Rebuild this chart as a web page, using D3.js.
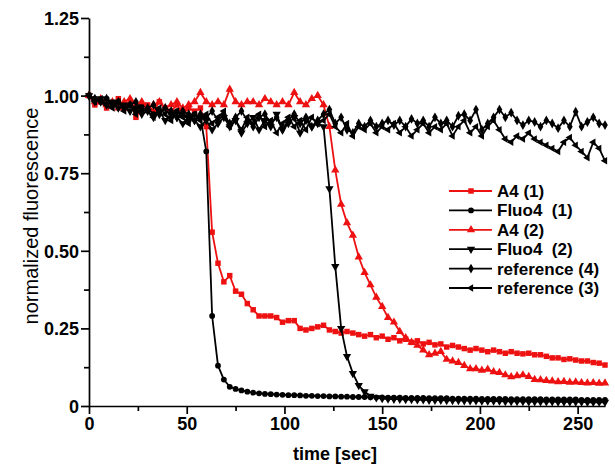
<!DOCTYPE html>
<html>
<head>
<meta charset="utf-8">
<script src="https://cdnjs.cloudflare.com/ajax/libs/d3/7.8.5/d3.min.js"></script>
<style>
  body { margin: 0; background: #fff; }
  text { font-family: "Liberation Sans", Arial, sans-serif; }
</style>
</head>
<body>
<script>

// ================================ data
var time = [0, 3, 6, 9, 12, 15, 18, 21, 24, 27, 30, 33, 36, 39, 42, 45, 48, 51, 54, 57,
  60, 63, 66, 69, 72, 75, 78, 81, 84, 87, 90, 93, 96, 99, 102, 105, 108, 111, 114, 117,
  120, 123, 126, 129, 132, 135, 138, 141, 144, 147, 150, 153, 156, 159, 162, 165, 168, 171, 174, 177,
  180, 183, 186, 189, 192, 195, 198, 201, 204, 207, 210, 213, 216, 219, 222, 225, 228, 231, 234, 237,
  240, 243, 246, 249, 252, 255, 258, 261, 264];

var a4_1 = [1.00, 0.97, 0.98, 0.96, 0.97, 0.99, 0.96, 0.98, 0.93, 0.96, 0.97, 0.95, 0.98, 0.96, 0.95, 0.97, 0.94, 0.96, 0.95, 0.96,
  0.90, 0.56, 0.46, 0.40, 0.42, 0.37, 0.36, 0.33, 0.31, 0.29,
  0.29, 0.29, 0.285, 0.27, 0.275, 0.275, 0.25, 0.245, 0.25, 0.255, 0.26,
  0.245, 0.24, 0.235, 0.24, 0.235, 0.23, 0.225, 0.23, 0.22,
  0.225, 0.215, 0.22, 0.21, 0.215, 0.205, 0.21, 0.20, 0.205, 0.197,
  0.20, 0.19, 0.195, 0.19, 0.185, 0.18, 0.185, 0.18, 0.175, 0.18,
  0.175, 0.17, 0.175, 0.17, 0.168, 0.17, 0.165, 0.165, 0.16, 0.155,
  0.155, 0.15, 0.152, 0.148, 0.145, 0.145, 0.14, 0.138, 0.132];

var fluo4_1 = [1.00, 0.99, 0.98, 0.99, 0.97, 0.98, 0.96, 0.97, 0.95, 0.97, 0.96, 0.94, 0.95, 0.96, 0.93, 0.95, 0.94, 0.92, 0.94, 0.93,
  0.82, 0.29, 0.13, 0.085, 0.062, 0.055, 0.050, 0.046, 0.043, 0.041,
  0.039, 0.038, 0.037, 0.036, 0.035, 0.035, 0.034, 0.033, 0.033, 0.032,
  0.032, 0.031, 0.031, 0.030, 0.030, 0.029, 0.029, 0.029, 0.028, 0.028,
  0.028, 0.027, 0.027, 0.027, 0.026, 0.026, 0.026, 0.026, 0.025, 0.025,
  0.025, 0.025, 0.024, 0.024, 0.024, 0.024, 0.024, 0.023, 0.023, 0.023,
  0.023, 0.023, 0.022, 0.022, 0.022, 0.022, 0.022, 0.022, 0.021, 0.021,
  0.021, 0.021, 0.021, 0.021, 0.020, 0.020, 0.020, 0.020, 0.020];

var a4_2 = [1.00, 0.98, 0.99, 0.97, 0.98, 0.96, 0.98, 0.99, 0.97, 0.98, 0.96, 0.97, 0.98, 0.96, 0.97, 0.98, 0.96, 0.97, 0.98, 1.01,
  0.98, 0.97, 0.98, 0.97, 1.02, 0.98, 0.97, 0.98, 0.98, 0.97, 0.99, 0.98, 0.97, 0.98, 0.97, 1.01, 0.98, 0.97, 0.99, 1.00, 0.97,
  0.90, 0.76, 0.65, 0.59, 0.55, 0.48, 0.43, 0.39, 0.35,
  0.32, 0.285, 0.27, 0.24, 0.22, 0.205, 0.195, 0.18, 0.165, 0.17,
  0.175, 0.15, 0.145, 0.14, 0.13, 0.12, 0.12, 0.115, 0.118, 0.11,
  0.108, 0.10, 0.094, 0.097, 0.10, 0.095, 0.085, 0.084, 0.082, 0.08,
  0.078, 0.079, 0.076, 0.077, 0.075, 0.074, 0.075, 0.073, 0.074];

var fluo4_2 = [1.00, 0.98, 0.99, 0.97, 0.98, 0.96, 0.97, 0.95, 0.96, 0.94, 0.95, 0.93, 0.95, 0.92, 0.94, 0.93, 0.91, 0.93, 0.92, 0.90,
  0.92, 0.89, 0.91, 0.93, 0.90, 0.92, 0.88, 0.91, 0.93, 0.89, 0.92, 0.90, 0.94, 0.89, 0.91, 0.93, 0.88, 0.92, 0.90, 0.91,
  0.90, 0.70, 0.45, 0.25, 0.16, 0.105, 0.066, 0.046, 0.032, 0.027,
  0.024, 0.023, 0.022, 0.022, 0.021, 0.021, 0.020, 0.020, 0.019, 0.019,
  0.019, 0.018, 0.018, 0.018, 0.017, 0.017, 0.017, 0.016, 0.016, 0.016,
  0.016, 0.015, 0.015, 0.015, 0.015, 0.014, 0.014, 0.014, 0.014, 0.014,
  0.013, 0.013, 0.013, 0.013, 0.013, 0.012, 0.012, 0.012, 0.012];

var ref4 = [1.00, 0.99, 0.98, 0.99, 0.97, 0.98, 0.96, 0.97, 0.98, 0.95, 0.96, 0.97, 0.94, 0.96, 0.95, 0.93, 0.95, 0.94, 0.92, 0.94,
  0.93, 0.95, 0.92, 0.94, 0.91, 0.93, 0.95, 0.92, 0.90, 0.93, 0.94, 0.91, 0.93, 0.89, 0.92, 0.94, 0.91, 0.93, 0.90, 0.92, 0.94,
  0.955, 0.91, 0.93, 0.89, 0.88, 0.91, 0.90, 0.92, 0.90,
  0.91, 0.92, 0.905, 0.92, 0.90, 0.925, 0.91, 0.92, 0.90, 0.93,
  0.91, 0.92, 0.90, 0.935, 0.94, 0.92, 0.955, 0.89, 0.91, 0.93,
  0.955, 0.93, 0.945, 0.92, 0.905, 0.92, 0.915, 0.90, 0.92, 0.91,
  0.895, 0.92, 0.90, 0.948, 0.90, 0.915, 0.93, 0.91, 0.905];

var ref3 = [1.00, 0.98, 0.99, 0.97, 0.96, 0.98, 0.95, 0.97, 0.94, 0.96, 0.95, 0.93, 0.96, 0.94, 0.92, 0.95, 0.93, 0.91, 0.94, 0.92,
  0.94, 0.91, 0.93, 0.95, 0.90, 0.92, 0.89, 0.93, 0.91, 0.94, 0.90, 0.92, 0.88, 0.91, 0.93, 0.90, 0.92, 0.89, 0.93, 0.91, 0.92,
  0.94, 0.90, 0.88, 0.91, 0.87, 0.90, 0.89, 0.91, 0.88,
  0.90, 0.89, 0.91, 0.88, 0.90, 0.87, 0.89, 0.91, 0.88, 0.90,
  0.89, 0.91, 0.87, 0.90, 0.92, 0.88, 0.90, 0.87, 0.90, 0.92,
  0.89, 0.86, 0.85, 0.87, 0.86, 0.88, 0.86, 0.85, 0.84, 0.83,
  0.82, 0.85, 0.865, 0.84, 0.82, 0.80, 0.85, 0.83, 0.79];

var seriesNames = ["A4 (1)", "Fluo4  (1)", "A4 (2)", "Fluo4  (2)", "reference (4)", "reference (3)"];
var seriesValues = [a4_1, fluo4_1, a4_2, fluo4_2, ref4, ref3];

var xTicks = [0, 50, 100, 150, 200, 250];
var xMinorTicks = [25, 75, 125, 175, 225];
var yTicks = [0, 0.25, 0.5, 0.75, 1.0, 1.25];
var yTickLabels = ["0", "0.25", "0.50", "0.75", "1.00", "1.25"];
var yMinorTicks = [0.125, 0.375, 0.625, 0.875, 1.125];

// ================================ styles per series
var red = "#ee1111";
var seriesColor = [red, "#000", red, "#000", "#000", "#000"];
var seriesSymbol = [
  { type: d3.symbolSquare, size: 30, rot: 0 },
  { type: d3.symbolCircle, size: 26, rot: 0 },
  { type: d3.symbolTriangle, size: 30, rot: 0 },
  { type: d3.symbolTriangle, size: 30, rot: 180 },
  { type: d3.symbolDiamond, size: 28, rot: 0 },
  { type: d3.symbolTriangle, size: 24, rot: -90 }
];

// ================================ svg
var svgWidth = 615;
var svgHeight = 472;

var svg = d3.select("body")
  .append("svg")
  .attr("width", svgWidth)
  .attr("height", svgHeight);

var xScale = d3.scaleLinear().domain([0, 264]).range([89, 605]);
var yScale = d3.scaleLinear().domain([0, 1.25]).range([406, 18]);

// axes
svg.append("g")
  .attr("transform", `translate(0, ${yScale(0)})`)
  .call(d3.axisBottom(xScale).tickValues(xTicks).tickSize(8).tickSizeOuter(0).tickPadding(3));

svg.append("g")
  .attr("transform", `translate(0, ${yScale(0)})`)
  .call(d3.axisBottom(xScale).tickValues(xMinorTicks).tickSize(5).tickFormat(""))
  .select(".domain").remove();

var yAxis = svg.append("g")
  .attr("transform", `translate(${xScale(0)}, 0)`)
  .call(d3.axisLeft(yScale).tickValues(yTicks).tickSize(8).tickSizeOuter(0).tickPadding(2)
    .tickFormat((d, i) => yTickLabels[i]));

svg.append("g")
  .attr("transform", `translate(${xScale(0)}, 0)`)
  .call(d3.axisLeft(yScale).tickValues(yMinorTicks).tickSize(5).tickFormat(""))
  .select(".domain").remove();

svg.selectAll(".domain, .tick line")
  .attr("stroke", "#000")
  .attr("stroke-width", 1.7);

svg.selectAll(".tick text")
  .attr("fill", "#000")
  .style("font-size", "18px")
  .style("font-weight", "bold");

yAxis.selectAll(".tick text").attr("dy", "0.36em");

// axis titles
svg.append("text")
  .attr("x", 335)
  .attr("y", 460)
  .attr("text-anchor", "middle")
  .style("font-size", "18px")
  .style("font-weight", "bold")
  .text("time [sec]");

svg.append("text")
  .attr("transform", "translate(38, 216) rotate(-90)")
  .attr("text-anchor", "middle")
  .style("font-size", "20px")
  .text("normalized fluorescence");

// ================================ lines + markers
var line = d3.line()
  .x((d, i) => xScale(time[i]))
  .y(d => yScale(d));

var plot = svg.append("g");

seriesValues.forEach(function (vals, s) {
  var g = plot.append("g");
  g.append("path")
    .datum(vals)
    .attr("fill", "none")
    .attr("stroke", seriesColor[s])
    .attr("stroke-width", 1.8)
    .attr("d", line);

  var sym = d3.symbol().type(seriesSymbol[s].type).size(seriesSymbol[s].size);
  g.selectAll("path.pt")
    .data(vals)
    .enter()
    .append("path")
    .attr("class", "pt")
    .attr("d", sym)
    .attr("fill", seriesColor[s])
    .attr("transform", (d, i) => `translate(${xScale(time[i])}, ${yScale(d)}) rotate(${seriesSymbol[s].rot})`);
});

// ================================ legend
var legend = svg.append("g").attr("transform", "translate(449, 191)");
var rowH = 19.4;

seriesNames.forEach(function (name, s) {
  var row = legend.append("g").attr("transform", `translate(0, ${s * rowH})`);
  row.append("line")
    .attr("x1", 0).attr("x2", 43)
    .attr("y1", 0).attr("y2", 0)
    .attr("stroke", seriesColor[s])
    .attr("stroke-width", 1.8);
  row.append("path")
    .attr("d", d3.symbol().type(seriesSymbol[s].type).size(seriesSymbol[s].size)())
    .attr("fill", seriesColor[s])
    .attr("transform", `translate(22, 0) rotate(${seriesSymbol[s].rot})`);
  row.append("text")
    .attr("x", 48)
    .attr("y", 0)
    .attr("dy", "0.35em")
    .style("font-size", "17px")
    .style("font-weight", "bold")
    .style("white-space", "pre")
    .attr("xml:space", "preserve")
    .text(name);
});

</script>
</body>
</html>
